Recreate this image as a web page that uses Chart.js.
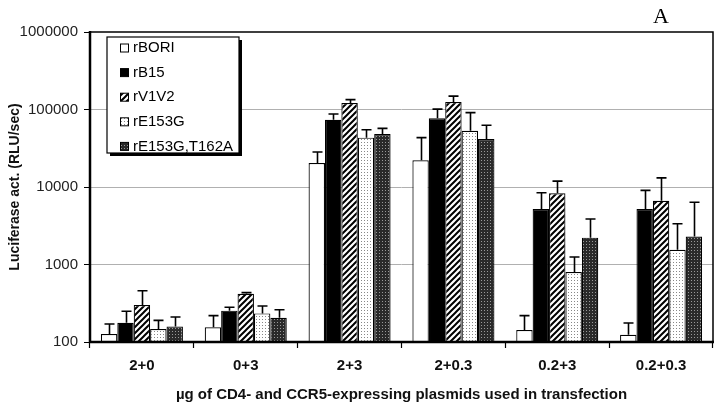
<!DOCTYPE html>
<html>
<head>
<meta charset="utf-8">
<script src="https://cdn.jsdelivr.net/npm/chart.js@4/dist/chart.umd.min.js"></script>
<style>
html,body{margin:0;padding:0;background:#fff;}
#wrap{position:relative;width:718px;height:409px;}
</style>
</head>
<body>
<div id="wrap"><canvas id="c" width="718" height="409"></canvas></div>
<script>
// ---- data ----
const categories = ['2+0', '0+3', '2+3', '2+0.3', '0.2+3', '0.2+0.3'];
const seriesNames = ['rBORI', 'rB15', 'rV1V2', 'rE153G', 'rE153G,T162A'];
const rBORI = [127, 155, 20400, 22100, 143, 124];
const rBORIErrTop = [171, 219, 28300, 43300, 219, 176];
const rB15 = [177, 254, 73800, 76900, 5200, 5200];
const rB15ErrTop = [249, 281, 87500, 101000, 8430, 9050];
const rV1V2 = [300, 420, 121000, 125000, 8300, 6650];
const rV1V2ErrTop = [459, 433, 134000, 149000, 11900, 13100];
const rE153G = [147, 234, 43300, 53200, 800, 1550];
const rE153GErrTop = [190, 292, 54800, 91000, 1250, 3360];
const rE153GT162A = [159, 206, 48300, 41600, 2220, 2290];
const rE153GT162AErrTop = [210, 261, 57100, 62500, 3860, 6350];
const yTickValues = [100, 1000, 10000, 100000, 1000000];
const xTitle = 'µg of CD4- and CCR5-expressing plasmids used in transfection';
const yTitle = 'Luciferase act. (RLU/sec)';
const panelLetter = 'A';

// ---- patterns ----
function makePattern(size, draw) {
  const cv = document.createElement('canvas');
  cv.width = size; cv.height = size;
  const g = cv.getContext('2d');
  draw(g, size);
  return g.createPattern(cv, 'repeat');
}
const hatch = makePattern(6, (g, s) => {
  g.fillStyle = '#fff'; g.fillRect(0, 0, s, s);
  g.strokeStyle = '#000'; g.lineWidth = 2;
  g.beginPath();
  g.moveTo(-1, s + 1); g.lineTo(s + 1, -1);
  g.moveTo(-1, 1); g.lineTo(1, -1);
  g.moveTo(s - 1, s + 1); g.lineTo(s + 1, s - 1);
  g.stroke();
});
const lightDots = makePattern(3, (g, s) => {
  g.fillStyle = '#fff'; g.fillRect(0, 0, s, s);
  g.fillStyle = '#888'; g.fillRect(1, 1, 1, 1);
});
const darkDots = makePattern(3, (g, s) => {
  g.fillStyle = '#2a2a2a'; g.fillRect(0, 0, s, s);
  g.fillStyle = '#999'; g.fillRect(1, 1, 1, 1);
});

const fills = ['#ffffff', '#000000', hatch, lightDots, darkDots];
const values = [rBORI, rB15, rV1V2, rE153G, rE153GT162A];
const errTops = [rBORIErrTop, rB15ErrTop, rV1V2ErrTop, rE153GErrTop, rE153GT162AErrTop];

const datasets = seriesNames.map((name, i) => ({
  label: name,
  data: values[i],
  errTop: errTops[i],
  backgroundColor: fills[i],
  borderColor: '#000',
  borderWidth: 1.2,
  barPercentage: 1.0,
  categoryPercentage: 0.79
}));

// ---- plugins ----
const errorBars = {
  id: 'errorBars',
  afterDatasetsDraw(chart) {
    const ctx = chart.ctx;
    const y = chart.scales.y;
    ctx.save();
    ctx.strokeStyle = '#000';
    ctx.lineWidth = 1.6;
    chart.data.datasets.forEach((ds, di) => {
      const meta = chart.getDatasetMeta(di);
      meta.data.forEach((bar, i) => {
        const top = y.getPixelForValue(ds.errTop[i]);
        const x = Math.round(bar.x) + 0.5;
        ctx.beginPath();
        ctx.moveTo(x, bar.y);
        ctx.lineTo(x, top);
        ctx.moveTo(x - 5, top);
        ctx.lineTo(x + 5, top);
        ctx.stroke();
      });
    });
    ctx.restore();
  }
};

const frameAndLegend = {
  id: 'frameAndLegend',
  afterDraw(chart) {
    const ctx = chart.ctx;
    const a = chart.chartArea;
    ctx.save();
    // frame
    ctx.strokeStyle = '#000';
    ctx.lineWidth = 1.5;
    ctx.beginPath();
    ctx.moveTo(a.left, a.top); ctx.lineTo(a.right, a.top); ctx.lineTo(a.right, a.bottom);
    ctx.stroke();
    ctx.lineWidth = 2.5;
    ctx.beginPath();
    ctx.moveTo(a.left, a.top - 1); ctx.lineTo(a.left, a.bottom); ctx.lineTo(a.right + 1, a.bottom);
    ctx.stroke();
    // legend box
    const lx = 107, ly = 37, lw = 132, lh = 116;
    ctx.fillStyle = '#000';
    ctx.fillRect(lx + 3, ly + 3, lw, lh);
    ctx.fillStyle = '#fff';
    ctx.fillRect(lx, ly, lw, lh);
    ctx.lineWidth = 1.2;
    ctx.strokeStyle = '#000';
    ctx.strokeRect(lx, ly, lw, lh);
    ctx.font = '15px "Liberation Sans", Arial, sans-serif';
    ctx.textBaseline = 'middle';
    chart.data.datasets.forEach((ds, i) => {
      const cy = 48 + i * 24.6;
      ctx.fillStyle = ds.backgroundColor;
      ctx.fillRect(120.5, cy - 4, 8, 8);
      ctx.lineWidth = 1;
      ctx.strokeStyle = '#000';
      ctx.strokeRect(120.5, cy - 4, 8, 8);
      ctx.fillStyle = '#000';
      ctx.fillText(ds.label, 133, cy);
    });
    // panel letter
    ctx.font = '22px "Liberation Serif", "Times New Roman", serif';
    ctx.textBaseline = 'alphabetic';
    ctx.textAlign = 'center';
    ctx.fillText(panelLetter, 661, 23);
    ctx.restore();
  }
};

new Chart(document.getElementById('c'), {
  type: 'bar',
  data: { labels: categories, datasets },
  options: {
    responsive: false,
    animation: false,
    layout: { padding: { top: 32, right: 5, left: 0, bottom: 0 } },
    plugins: { legend: { display: false }, tooltip: { enabled: false } },
    scales: {
      x: {
        grid: {
          offset: true,
          drawOnChartArea: false,
          tickLength: 6,
          tickColor: '#000',
          tickWidth: 1.2
        },
        border: { display: false },
        ticks: {
          color: '#111',
          padding: 9,
          font: { family: '"Liberation Sans", Arial, sans-serif', size: 15, weight: 'bold' },
          maxRotation: 0
        },
        title: {
          display: true,
          text: xTitle,
          color: '#111',
          padding: { top: 0, bottom: 5 },
          font: { family: '"Liberation Sans", Arial, sans-serif', size: 15, weight: 'bold' }
        },
        afterFit(s) { s.height = 67; }
      },
      y: {
        type: 'logarithmic',
        min: 100,
        max: 1000000,
        afterBuildTicks(s) { s.ticks = yTickValues.map(v => ({ value: v })); },
        grid: {
          color: (c) => (c.tick && (c.tick.value === 100 || c.tick.value === 1000000)) ? 'rgba(0,0,0,0)' : '#b0b0b0',
          borderDash: [4, 4],
          tickBorderDash: [],
          tickColor: '#000',
          tickLength: 6,
          lineWidth: 1
        },
        border: { display: false },
        ticks: {
          color: '#222',
          padding: 6,
          font: { family: '"Liberation Sans", Arial, sans-serif', size: 15 },
          callback: (v) => String(v)
        },
        title: {
          display: true,
          text: yTitle,
          color: '#111',
          padding: { top: 7, bottom: 0 },
          font: { family: '"Liberation Sans", Arial, sans-serif', size: 14, weight: 'bold' }
        },
        afterFit(s) { s.width = 90; }
      }
    }
  },
  plugins: [errorBars, frameAndLegend]
});
</script>
</body>
</html>
